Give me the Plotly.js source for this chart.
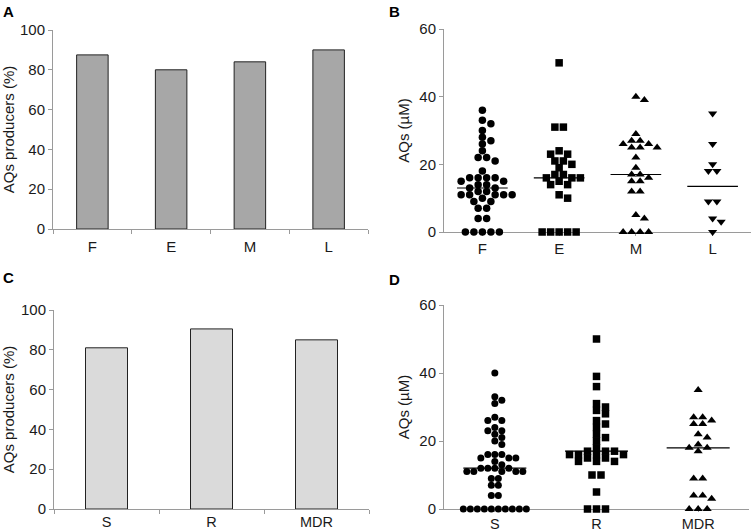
<!DOCTYPE html>
<html><head><meta charset="utf-8">
<script src="https://cdn.plot.ly/plotly-3.0.1.min.js"></script>
<style>html,body{margin:0;padding:0;background:#fff}</style>
</head><body><div id="chart" style="width:752px;height:532px"></div>
<script>
// ---- Data ----
const stageCategories = ['F', 'E', 'M', 'L'];
const stageProducersPct = [87.5, 80, 84, 90];
const resistCategories = ['S', 'R', 'MDR'];
const resistProducersPct = [81, 90.5, 85];

const aqF = [36,33,32,30,28,27,26,24,22,22,21,18,16,16,16,16,15,15,14,14,13,13,12,12,11,11,11,11,11,10,9,9,7,7,4,4,0,0,0,0,0];
const aqE = [50,31,31,24,23,23,21,21,20,19,17,17,16,16,16,15,14,14,11,10,0,0,0,0,0];
const aqM = [40,39,29,27,27,26,26,25,25,25,22,19,17,17,16,15,15,12,12,5,4,0,0,0,0];
const aqL = [35,26,20,18,18,9,9,4,3,0];

const aqS = [40,33,32,31,27,26,26,24,23,23,22,21,20,19,16,16,16,15,15,15,14,13,12,12,12,12,11,11,11,11,11,9,9,7,7,4,4,0,0,0,0,0,0,0,0,0,0];
const aqR = [50,39,36,31,30,29,28,26,25,24,22,21,20,18,17,17,17,16,16,16,16,15,15,14,14,14,10,10,5,0,0,0];
const aqMDR = [35,27,27,26,25,25,22,21,19,18,18,17,9,9,4,4,3,0,0,0];

// ---- Helpers ----
const W = 752, H = 532;
const FONT = 'Liberation Sans, Arial, sans-serif';
const AX = '#9a9a9a';
const TXT = '#1a1a1a';

function median(a) {
  const s = a.slice().sort((x, y) => x - y);
  const n = s.length;
  return n % 2 ? s[(n - 1) / 2] : (s[n / 2 - 1] + s[n / 2]) / 2;
}
// symmetric beeswarm computed in pixel space from the values
function swarm(vals, center, pxX, pxY, diam, step) {
  const sorted = vals.slice().sort((a, b) => b - a);
  const groups = [];
  for (const v of sorted) {
    const last = groups[groups.length - 1];
    if (last && last[0] === v) last.push(v); else groups.push([v]);
  }
  const placed = [];
  const xs = [], ys = [];
  for (const g of groups) {
    const yPx = g[0] * pxY;
    let best = null;
    for (const half of [0, 0.5]) {
      const cands = [];
      for (let k = 0; k < 40; k++) {
        const o = (k + half) * step;
        cands.push(o); if (o !== 0) cands.push(-o);
      }
      cands.sort((a, b) => Math.abs(a) - Math.abs(b) || b - a);
      const chosen = [];
      for (const c of cands) {
        if (chosen.length === g.length) break;
        const all = placed.concat(chosen.map(x => [x, yPx]));
        if (all.every(p => Math.hypot(p[0] - c, p[1] - yPx) >= diam - 1e-6)) chosen.push(c);
      }
      const parityPenalty = ((g.length % 2 === 0) !== (half === 0.5)) ? 0.01 : 0;
      const cost = chosen.reduce((s, x) => s + Math.abs(x), 0) + parityPenalty;
      if (!best || cost < best.cost) best = { cost, chosen };
    }
    best.chosen.forEach(x => { placed.push([x, yPx]); xs.push(center + x / pxX); ys.push(g[0]); });
  }
  return { x: xs, y: ys };
}

const dom = {
  A: { x: [53 / W, 368 / W], y: [1 - 229 / H, 1 - 30 / H] },
  B: { x: [444 / W, 751 / W], y: [1 - 232 / H, 1 - 29 / H] },
  C: { x: [54 / W, 369 / W], y: [1 - 509 / H, 1 - 310 / H] },
  D: { x: [444 / W, 749 / W], y: [1 - 509 / H, 1 - 305 / H] }
};
const pxXB = (dom.B.x[1] - dom.B.x[0]) * W / stageCategories.length;
const pxYB = (dom.B.y[1] - dom.B.y[0]) * H / 60;
const pxXD = (dom.D.x[1] - dom.D.x[0]) * W / resistCategories.length;
const pxYD = (dom.D.y[1] - dom.D.y[0]) * H / 60;

const traces = [];
traces.push({ type: 'bar', x: stageCategories, y: stageProducersPct, xaxis: 'x', yaxis: 'y', width: 0.4,
  marker: { color: '#a7a7a7', line: { color: '#222', width: 1 } } });
traces.push({ type: 'bar', x: resistCategories, y: resistProducersPct, xaxis: 'x3', yaxis: 'y3', width: 0.4,
  marker: { color: '#dadada', line: { color: '#222', width: 1 } } });

const groupsB = [aqF, aqE, aqM, aqL];
const symB = ['circle', 'square', 'triangle-up', 'triangle-down'];
const sizeB = [7.5, 7.5, 8, 8];
groupsB.forEach((g, i) => {
  const s = swarm(g, i, pxXB, pxYB, 6.5, 8.5);
  traces.push({ type: 'scatter', mode: 'markers', x: s.x, y: s.y, xaxis: 'x2', yaxis: 'y2', cliponaxis: false,
    marker: { symbol: symB[i], size: sizeB[i], color: '#000' }, name: stageCategories[i] });
  const m = median(g);
  traces.push({ type: 'scatter', mode: 'lines', x: [i - 0.33, i + 0.33], y: [m, m], xaxis: 'x2', yaxis: 'y2',
    line: { color: '#000', width: 1.2 } });
});
const groupsD = [aqS, aqR, aqMDR];
const symD = ['circle', 'square', 'triangle-up'];
const sizeD = [7, 7.5, 8];
const stepD = [7, 9, 9];
const diamD = [6.2, 6.8, 6.8];
groupsD.forEach((g, i) => {
  const s = swarm(g, i, pxXD, pxYD, diamD[i], stepD[i]);
  traces.push({ type: 'scatter', mode: 'markers', x: s.x, y: s.y, xaxis: 'x4', yaxis: 'y4', cliponaxis: false,
    marker: { symbol: symD[i], size: sizeD[i], color: '#000' }, name: resistCategories[i] });
  const m = median(g);
  traces.push({ type: 'scatter', mode: 'lines', x: [i - 0.31, i + 0.31], y: [m, m], xaxis: 'x4', yaxis: 'y4',
    line: { color: '#000', width: 1.2 } });
});

const tickFont = { family: FONT, size: 15, color: TXT };
const titleFont = { family: FONT, size: 15, color: TXT };
function yAx(d, anchor, range, dtick, title, standoff) {
  return { domain: d, anchor: anchor, range: range, dtick: dtick, tick0: 0, ticks: 'outside', ticklen: 4,
    tickcolor: AX, showline: true, linecolor: AX, linewidth: 1, showgrid: false, zeroline: false,
    tickfont: tickFont, title: { text: title, font: titleFont, standoff: standoff }, fixedrange: true, layer: 'below traces' };
}
const layout = {
  width: W, height: H, margin: { l: 0, r: 0, t: 0, b: 0 }, showlegend: false, hovermode: false,
  paper_bgcolor: '#fff', plot_bgcolor: '#fff', font: { family: FONT, color: TXT },
  xaxis: { domain: dom.A.x, anchor: 'y', type: 'category', range: [-0.5, 3.5], tickson: 'boundaries',
    ticks: 'outside', ticklen: 4, tickcolor: AX, showline: true, linecolor: AX, showgrid: false,
    tickfont: tickFont, ticklabelstandoff: 4, fixedrange: true },
  yaxis: yAx(dom.A.y, 'x', [0, 100], 20, 'AQs producers (%)', 2),
  xaxis2: { domain: dom.B.x, anchor: 'y2', range: [-0.5, 3.5], tickvals: stageCategories.map((_, i) => i),
    ticktext: stageCategories, ticks: 'outside', ticklen: 3, tickcolor: AX, showline: true, linecolor: AX,
    showgrid: false, zeroline: false, tickfont: tickFont, fixedrange: true, layer: 'below traces' },
  yaxis2: yAx(dom.B.y, 'x2', [0, 60], 20, 'AQs (µM)', 6),
  xaxis3: { domain: dom.C.x, anchor: 'y3', type: 'category', range: [-0.5, 2.5], tickson: 'boundaries',
    ticks: 'outside', ticklen: 4, tickcolor: AX, showline: true, linecolor: AX, showgrid: false,
    tickfont: { family: FONT, size: 14.5, color: TXT }, fixedrange: true },
  yaxis3: yAx(dom.C.y, 'x3', [0, 100], 20, 'AQs producers (%)', 3),
  xaxis4: { domain: dom.D.x, anchor: 'y4', range: [-0.5, 2.5], tickvals: resistCategories.map((_, i) => i),
    ticktext: resistCategories, ticks: 'outside', ticklen: 2, tickcolor: AX, showline: true, linecolor: AX,
    showgrid: false, zeroline: false, tickfont: { family: FONT, size: 14.5, color: TXT }, fixedrange: true, layer: 'below traces' },
  yaxis4: yAx(dom.D.y, 'x4', [0, 60], 20, 'AQs (µM)', 6),
  annotations: [
    { text: '<b>A</b>', x: 1 / W, y: 1 - 1 / H },
    { text: '<b>B</b>', x: 387 / W, y: 1 - 1 / H },
    { text: '<b>C</b>', x: 1 / W, y: 1 - 267 / H },
    { text: '<b>D</b>', x: 387 / W, y: 1 - 269 / H }
  ].map(a => Object.assign({ xref: 'paper', yref: 'paper', xanchor: 'left', yanchor: 'top', showarrow: false,
    font: { family: FONT, size: 15, color: '#000' } }, a))
};
Plotly.newPlot('chart', traces, layout, { displayModeBar: false, staticPlot: true });
</script></body></html>
